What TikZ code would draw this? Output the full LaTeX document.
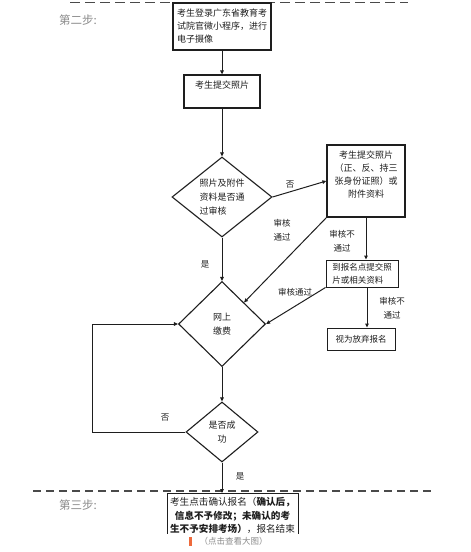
\documentclass[tikz,border=0pt]{standalone}
\usepackage{fontspec}
\setmainfont{Noto Sans CJK SC}
\usetikzlibrary{arrows.meta,positioning,shapes.geometric}
\definecolor{Ink}{HTML}{1E1E1E}
\definecolor{Muted}{HTML}{8A8A8A}
\definecolor{Warm}{HTML}{EE6A3C}
\definecolor{Rule}{HTML}{4A4A4A}
\tikzset{flow/.style={-{Triangle[length=4pt,width=3.6pt]},draw=Ink,line width=1pt},box/.style={draw=Ink,line width=1pt,inner sep=2pt,text=Ink,font=\fontsize{9}{13}\selectfont},choice/.style={diamond,draw=Ink,line width=1.1pt,inner sep=0pt,text=Ink,font=\fontsize{9}{14}\selectfont},note/.style={text=Ink,align=center,font=\fontsize{8.5}{14}\selectfont},steptag/.style={text=Muted,font=\fontsize{11.5}{13}\selectfont}}

\begin{document}
\begin{tikzpicture}[x=1pt,y=-1pt]
\useasboundingbox (0,0) rectangle (471,552);
\draw[Rule,line width=.8pt,dash pattern=on 10pt off 5pt] (70,2) -- (408,2);
\draw[Rule,line width=1.8pt,dash pattern=on 8pt off 5pt] (33,491) -- (432,491);
\node[steptag] (tag2) at (78,20) {第二步:};
\node[steptag] (tag3) at (78,505) {第三步:};
\node[box,line width=1.6pt,minimum width=98pt,minimum height=47pt,align=left] (login) at (222,26.5) {考生登录广东省教育考\\试院官微小程序，进行\\电子摄像};
\node[box,line width=1.3pt,minimum width=76pt,minimum height=33pt,align=center] (photo) at (222,91.5) {考生提交照片\\\mbox{}};
\node[choice,aspect=1.25,minimum width=100pt,minimum height=80pt,align=left] (check) at (222,197) {照片及附件\\资料是否通\\过审核};
\node[box,line width=1.3pt,minimum width=78pt,minimum height=72pt,align=center] (resend) at (366,181) {考生提交照片\\（正、反、持三\\张身份证照）或\\附件资料\\\mbox{}};
\node[box,minimum width=72pt,minimum height=27pt,inner ysep=0pt,align=left,font=\fontsize{8.5}{13}\selectfont] (site) at (362,273.5) {到报名点提交照\\片或相关资料};
\node[box,minimum width=68pt,minimum height=22pt,align=left,font=\fontsize{8.5}{13}\selectfont] (quit) at (361,339) {视为放弃报名};
\node[choice,aspect=1,minimum width=87pt,minimum height=85pt,align=left] (pay) at (222,324) {网上\\缴费};
\node[choice,aspect=1.2,minimum width=72pt,minimum height=60pt,align=center] (done) at (222,432) {是否成\\功};
\node[box,anchor=north,minimum width=131pt,minimum height=44pt,inner xsep=3pt,inner ysep=0.5pt,align=center,font=\fontsize{9.6}{13.6}\selectfont] (confirm) at (232.5,493) {考生点击确认报名（\textbf{确认后，}\\\textbf{信息不予修改；未确认的考}\\\textbf{生不予安排考场）}，报名结束};
\coordinate (back) at (92,432);
\draw[flow] (login) -- (photo);
\draw[flow] (photo) -- (check);
\draw[flow] (check.east) -- (resend.west);
\draw[flow] (resend.south west) -- (pay.north east);
\draw[flow] (resend.south) -- (resend.south |- site.north);
\draw[flow] (site.south west) -- (pay.east);
\draw[flow] ([xshift=5pt]site.south) -- ([xshift=5pt]site.south |- quit.north);
\draw[flow] (check) -- (pay);
\draw[flow] (pay) -- (done);
\draw[flow] (done.west) -- (back) |- (pay.west);
\draw[flow] (done.south) -- (done.south |- confirm.north);
\node[note] (no1) at (290,185) {否};
\node[note] (pass1) at (282,230) {审核\\通过};
\node[note] (fail1) at (342,241) {审核不\\通过};
\node[note] (pass2) at (295,292) {审核通过};
\node[note] (fail2) at (392,308) {审核不\\通过};
\node[note] (yes1) at (205,264) {是};
\node[note] (no2) at (165,418) {否};
\node[note] (yes2) at (240,476) {是};
\fill[white] (0,534) rectangle (471,552);
\fill[Warm] (189,537) rectangle (192,546);
\node[text=Muted,font=\fontsize{8.5}{10}\selectfont] (more) at (233.5,541) {（点击查看大图）};
\end{tikzpicture}
\end{document}
